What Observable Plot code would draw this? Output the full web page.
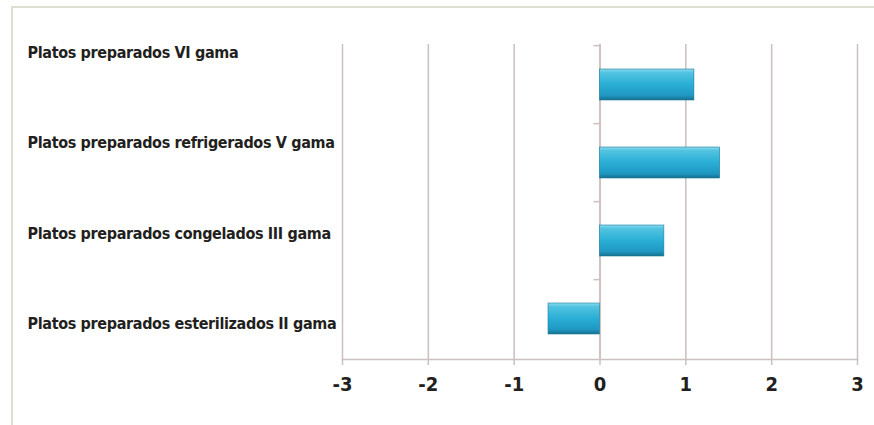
<!DOCTYPE html>
<html>
<head>
<meta charset="utf-8">
<script src="https://cdn.jsdelivr.net/npm/d3@7"></script>
<script src="https://cdn.jsdelivr.net/npm/@observablehq/plot@0.6"></script>
<style>
  html, body { margin: 0; padding: 0; background: #ffffff; }
  #wrap { position: relative; width: 874px; height: 425px; overflow: hidden; }
  #border { position: absolute; left: 11px; top: 6px; width: 870px; height: 430px;
            border-top: 2px solid #dedfd3; border-left: 2px solid #dedfd3; box-sizing: border-box; }
  #chart { position: absolute; left: 0; top: 0; }
  svg { font-family: "Liberation Sans Narrow", "Arial Narrow", "DejaVu Sans Condensed", sans-serif; }
</style>
</head>
<body>
<div id="wrap"><div id="border"></div><div id="chart"></div></div>
<script>
const categories = [
  "Platos preparados VI gama",
  "Platos preparados refrigerados V gama",
  "Platos preparados congelados III gama",
  "Platos preparados esterilizados II gama"
];
const values = [1.1, 1.4, 0.75, -0.6];
const xTicks = [-3, -2, -1, 0, 1, 2, 3];

const data = categories.map((c, i) => ({category: c, value: values[i]}));

const W = 874, H = 425;
const mTop = 44, mBottom = 66, mLeft = 342, mRight = 17;
const padIn = 0.6, padOut = 0.3;
const step = (H - mTop - mBottom) / (categories.length - padIn + 2 * padOut);
const labelDy = [-32, -20, -7, 5];
const gridColor = "#cbbfbf";

const labelMarks = categories.map((c, i) => Plot.text([c], {
  y: d => d, frameAnchor: "left", textAnchor: "start",
  dx: 27 - mLeft, dy: labelDy[i],
  fontSize: 16, fontWeight: "bold", fill: "#231f20"
}));

const plot = Plot.plot({
  width: W, height: H,
  marginTop: mTop, marginBottom: mBottom, marginLeft: mLeft, marginRight: mRight,
  style: {background: "transparent", overflow: "visible"},
  x: {domain: [-3, 3], ticks: xTicks, label: null},
  y: {domain: categories, paddingInner: padIn, paddingOuter: padOut, axis: null},
  marks: [
    Plot.gridX(xTicks, {stroke: gridColor, strokeOpacity: 1, strokeWidth: 1.5}),
    Plot.ruleX([0], {stroke: gridColor, strokeWidth: 1.5}),
    Plot.ruleY(categories, {y: d => d, x1: -0.07, x2: 0, dy: -step / 2, stroke: gridColor, strokeWidth: 1.5}),
    Plot.frame({anchor: "bottom", stroke: gridColor, strokeWidth: 1.5, strokeOpacity: 1}),
    Plot.axisX({ticks: xTicks, tickSize: 6, tickPadding: 11, stroke: gridColor, strokeWidth: 1.5, strokeOpacity: 1,
      fontSize: 20, fontWeight: "bold", fill: "#231f20", label: null,
      tickFormat: d => d < 0 ? "-" + Math.abs(d) : String(d)}),
    Plot.barX(data, {x: "value", y: "category", fill: "url(#barGrad)", stroke: "#1d7d9c", strokeWidth: 0.6}),
    ...labelMarks
  ]
});

plot.querySelectorAll("text").forEach(t => {
  if (t.textContent.startsWith("Platos")) t.setAttribute("letter-spacing", "-0.35");
});

const ns = "http://www.w3.org/2000/svg";
const defs = document.createElementNS(ns, "defs");
defs.innerHTML = `<linearGradient id="barGrad" x1="0" y1="0" x2="0" y2="1">
  <stop offset="0" stop-color="#8adbee"/>
  <stop offset="0.12" stop-color="#52c3e2"/>
  <stop offset="0.5" stop-color="#2aaed5"/>
  <stop offset="0.85" stop-color="#1f98c2"/>
  <stop offset="1" stop-color="#17708f"/>
</linearGradient>`;
plot.insertBefore(defs, plot.firstChild);
document.getElementById("chart").appendChild(plot);
</script>
</body>
</html>
